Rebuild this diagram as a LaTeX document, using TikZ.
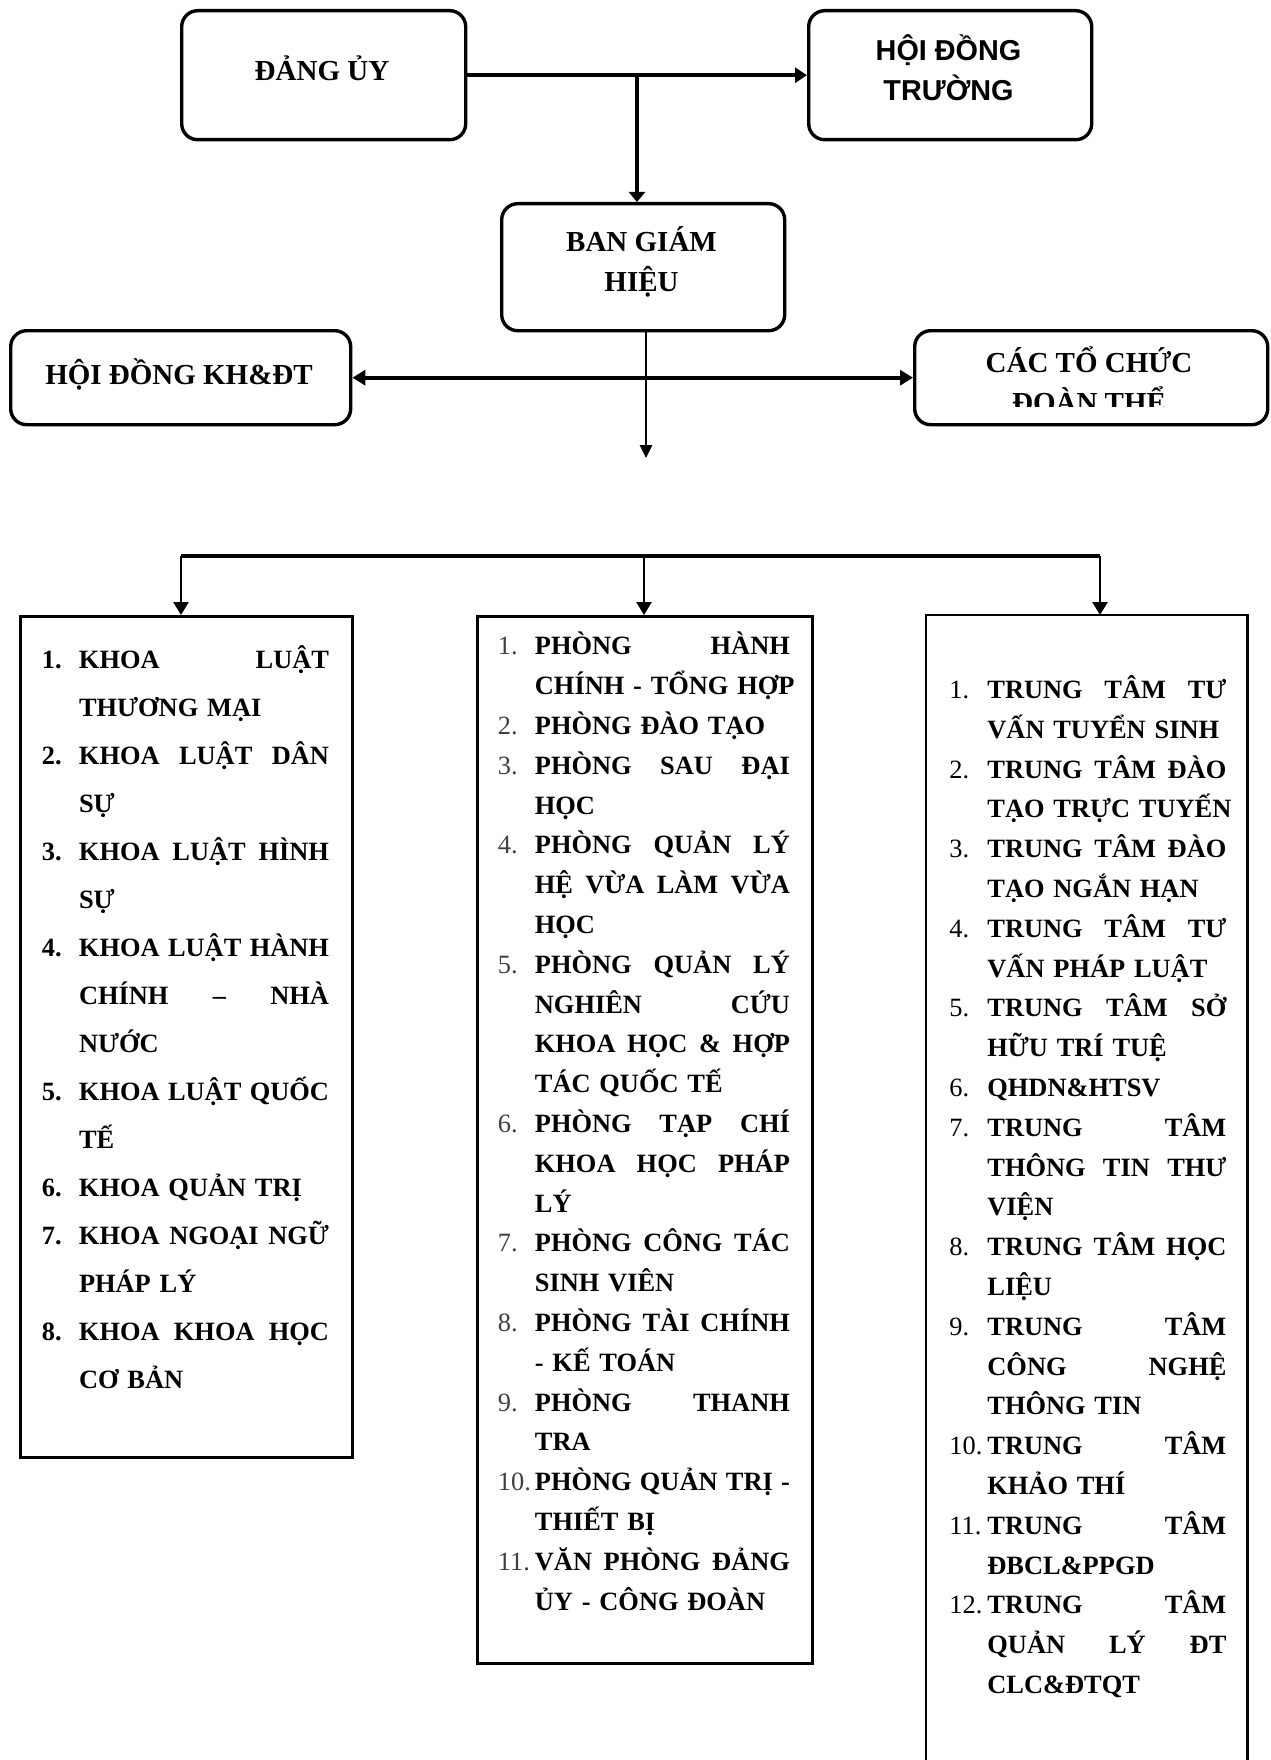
\documentclass[tikz,border=0pt]{standalone}
\usepackage{fontspec}
\setmainfont{Liberation Serif}
\newfontfamily\arialfont{Liberation Sans}
\usetikzlibrary{arrows.meta}
\newlength\nw
\newlength\tw
\newcommand\numstyle{}
\newcommand\ijust[2]{\makebox[\nw][l]{\numstyle #1}\makebox[\tw][s]{\spaceskip=0pt\xspaceskip=0pt #2}}
\newcommand\ilast[2]{\makebox[\nw][l]{\numstyle #1}\mbox{#2}}
\newcommand\cjust[1]{\hspace*{\nw}\makebox[\tw][s]{\spaceskip=0pt\xspaceskip=0pt #1}}
\newcommand\clast[1]{\hspace*{\nw}\mbox{#1}}
\begin{document}
\begin{tikzpicture}[x=0.5pt,y=-0.5pt,
  topbox/.style={draw, line width=1.7pt, rounded corners=8pt, anchor=north west, inner sep=0pt},
  toptext/.style={inner sep=0pt, align=center, font=\bfseries\fontsize{14.5}{20}\selectfont},
  listbox/.style={draw, line width=1.4pt, anchor=north west, inner sep=0pt},
  listtext/.style={anchor=north west, inner sep=0pt, align=left,
    font=\bfseries\fontsize{13.2}{#1}\selectfont},
  conn/.style={line width=1.8pt},
  tip/.style={-{Triangle[length=6pt,width=7.5pt]}},
  bus/.style={line width=1.8pt},
  drop/.style={line width=1.3pt, -{Triangle[length=6.5pt,width=7.5pt]}}
]
\useasboundingbox (0,0) rectangle (1270,1760);

% top boxes
\node[topbox, minimum width=142pt, minimum height=64.5pt] (dang) at (180,9) {};
\node[toptext] (dangtext) at (322,68) {ĐẢNG ỦY};
\node[topbox, minimum width=141.5pt, minimum height=64.5pt] (hdt) at (807,9) {};
\node[toptext, font=\arialfont\bfseries\fontsize{14.4}{20}\selectfont] (hdttext) at (948.5,68) {HỘI ĐỒNG\\TRƯỜNG};
\node[topbox, minimum width=141.5pt, minimum height=63.5pt] (bgh) at (500,202) {};
\node[toptext] (bghtext) at (641.5,262) {BAN GIÁM\\HIỆU};
\node[topbox, minimum width=170pt, minimum height=47pt] (kh) at (9,329) {};
\node[toptext] (khtext) at (179,374) {HỘI ĐỒNG KH\&ĐT};
\node[topbox, minimum width=176.5pt, minimum height=47pt] (ct) at (913,329) {};
\begin{scope}
  \clip (913,329) rectangle (1266,406);
  \node[toptext] (cttext) at (1089,380) {CÁC TỔ CHỨC\\ĐOÀN THỂ};
\end{scope}

% connectors at the top
\coordinate (j1) at (637,73);
\coordinate (j2) at (646,458);
\draw[conn, tip] (dang.east) -- (hdt.west);
\draw[conn, -{Triangle[length=5pt,width=8pt]}] (j1) -- (j1 |- bgh.north);
\draw[conn, {Triangle[length=6.5pt,width=7.5pt]}-{Triangle[length=6.5pt,width=7.5pt]}] (kh.east) -- (ct.west);
\draw[line width=1.3pt, -{Triangle[length=6.5pt,width=6pt]}] (j2 |- bgh.south) -- (j2);

% list boxes
\node[listbox, minimum width=166pt, minimum height=420.5pt] (lbox) at (19,615) {};
\node[listbox, minimum width=167.5pt, minimum height=523.5pt] (mbox) at (476,615) {};
\node[listbox, draw=none, minimum width=159.5pt, minimum height=572.5pt] (rbox) at (926,615) {};
\draw[line width=1.4pt] (rbox.south west) -- (rbox.north west) -- (rbox.north east) -- (rbox.south east);

% bus
\coordinate (b1) at (181,556);
\coordinate (b2) at (644,556);
\coordinate (b3) at (1100,556);
\draw[bus] (b1) -- (b3);
\draw[drop] (b1) -- (b1 |- lbox.north);
\draw[drop] (b2) -- (b2 |- mbox.north);
\draw[drop] (b3) -- (b3 |- rbox.north);

% left list
\node[listtext=24pt, text width=144pt] (ltext) at (41.5,639.7) {%
\setlength\nw{18.55pt}\setlength\tw{125pt}\renewcommand\numstyle{\bfseries}%
\noindent\rule{0pt}{14pt}%
\ijust{1.}{KHOA LUẬT}\\
\clast{THƯƠNG MẠI}\\
\ijust{2.}{KHOA LUẬT DÂN}\\
\clast{SỰ}\\
\ijust{3.}{KHOA LUẬT HÌNH}\\
\clast{SỰ}\\
\ijust{4.}{KHOA LUẬT HÀNH}\\
\cjust{CHÍNH – NHÀ}\\
\clast{NƯỚC}\\
\ijust{5.}{KHOA LUẬT QUỐC}\\
\clast{TẾ}\\
\ilast{6.}{KHOA QUẢN TRỊ}\\
\ijust{7.}{KHOA NGOẠI NGỮ}\\
\clast{PHÁP LÝ}\\
\ijust{8.}{KHOA KHOA HỌC}\\
\clast{CƠ BẢN}};

% middle list
\node[listtext=19.9pt, text width=147pt] (mtext) at (497.5,626.4) {%
\setlength\nw{18.5pt}\setlength\tw{127.5pt}\renewcommand\numstyle{\mdseries\color{black!75}}%
\noindent\rule{0pt}{14pt}%
\ijust{1.}{PHÒNG HÀNH}\\
\clast{CHÍNH - TỔNG HỢP}\\
\ilast{2.}{PHÒNG ĐÀO TẠO}\\
\ijust{3.}{PHÒNG SAU ĐẠI}\\
\clast{HỌC}\\
\ijust{4.}{PHÒNG QUẢN LÝ}\\
\cjust{HỆ VỪA LÀM VỪA}\\
\clast{HỌC}\\
\ijust{5.}{PHÒNG QUẢN LÝ}\\
\cjust{NGHIÊN CỨU}\\
\cjust{KHOA HỌC \& HỢP}\\
\clast{TÁC QUỐC TẾ}\\
\ijust{6.}{PHÒNG TẠP CHÍ}\\
\cjust{KHOA HỌC PHÁP}\\
\clast{LÝ}\\
\ijust{7.}{PHÒNG CÔNG TÁC}\\
\clast{SINH VIÊN}\\
\ijust{8.}{PHÒNG TÀI CHÍNH}\\
\clast{- KẾ TOÁN}\\
\ijust{9.}{PHÒNG THANH}\\
\clast{TRA}\\
\ijust{10.}{PHÒNG QUẢN TRỊ -}\\
\clast{THIẾT BỊ}\\
\ijust{11.}{VĂN PHÒNG ĐẢNG}\\
\clast{ỦY - CÔNG ĐOÀN}};

% right list
\node[listtext=19.9pt, text width=139pt] (rtext) at (949,670) {%
\setlength\nw{19pt}\setlength\tw{119.5pt}\renewcommand\numstyle{\mdseries}%
\noindent\rule{0pt}{14pt}%
\ijust{1.}{TRUNG TÂM TƯ}\\
\clast{VẤN TUYỂN SINH}\\
\ijust{2.}{TRUNG TÂM ĐÀO}\\
\clast{TẠO TRỰC TUYẾN}\\
\ijust{3.}{TRUNG TÂM ĐÀO}\\
\clast{TẠO NGẮN HẠN}\\
\ijust{4.}{TRUNG TÂM TƯ}\\
\clast{VẤN PHÁP LUẬT}\\
\ijust{5.}{TRUNG TÂM SỞ}\\
\clast{HỮU TRÍ TUỆ}\\
\ilast{6.}{QHDN\&HTSV}\\
\ijust{7.}{TRUNG TÂM}\\
\cjust{THÔNG TIN THƯ}\\
\clast{VIỆN}\\
\ijust{8.}{TRUNG TÂM HỌC}\\
\clast{LIỆU}\\
\ijust{9.}{TRUNG TÂM}\\
\cjust{CÔNG NGHỆ}\\
\clast{THÔNG TIN}\\
\ijust{10.}{TRUNG TÂM}\\
\clast{KHẢO THÍ}\\
\ijust{11.}{TRUNG TÂM}\\
\clast{ĐBCL\&PPGD}\\
\ijust{12.}{TRUNG TÂM}\\
\cjust{QUẢN LÝ ĐT}\\
\clast{CLC\&ĐTQT}};
\end{tikzpicture}
\end{document}
